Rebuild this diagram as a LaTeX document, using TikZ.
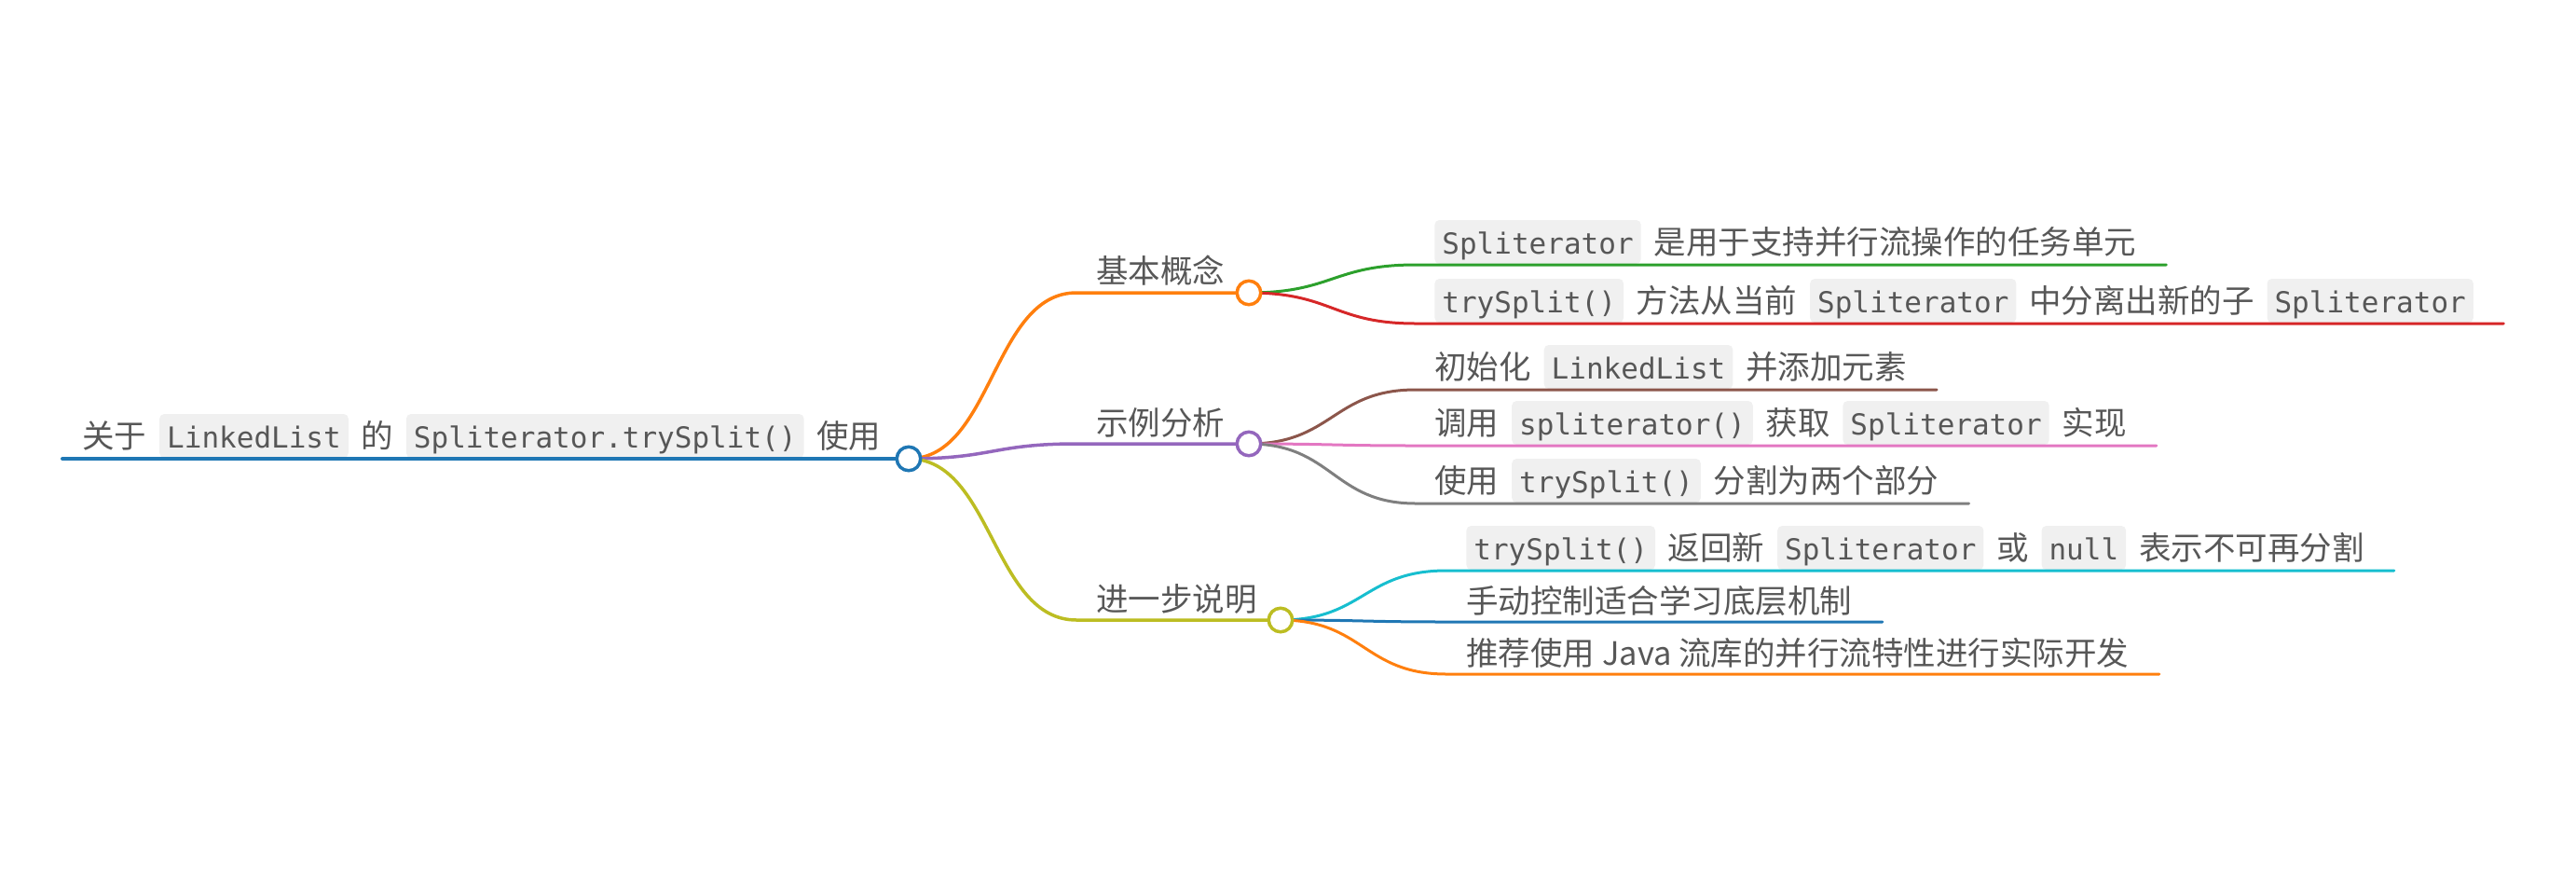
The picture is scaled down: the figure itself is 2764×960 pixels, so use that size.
\documentclass[tikz,border=0pt]{standalone}
\usepackage{fontspec}
\setmainfont{Noto Sans CJK SC}
\newfontfamily\codefont{DejaVu Sans Mono}
\usetikzlibrary{calc}
\definecolor{txtgray}{HTML}{575757}
\definecolor{codebg}{HTML}{F0F0F0}
\definecolor{cblue}{HTML}{1F77B4}
\definecolor{corange}{HTML}{FF7F0E}
\definecolor{cgreen}{HTML}{2CA02C}
\definecolor{cred}{HTML}{D62728}
\definecolor{cpurple}{HTML}{9467BD}
\definecolor{cbrown}{HTML}{8C564B}
\definecolor{cpink}{HTML}{E377C2}
\definecolor{cgray}{HTML}{7F7F7F}
\definecolor{colive}{HTML}{BCBD22}
\definecolor{ccyan}{HTML}{17BECF}
\tikzset{
  txt/.style={inner sep=0pt, anchor=base west, font=\fontsize{17.25pt}{20pt}\selectfont, text=txtgray},
  codebox/.style={anchor=base west, fill=codebg, rounded corners=2.5pt, inner xsep=4pt, inner ysep=0pt,
    text height=18pt, text depth=5.5pt, font=\codefont\fontsize{15.5pt}{18pt}\selectfont, text=txtgray},
  rootlink/.style={line width=2pt, line cap=round},
  brlink/.style={line width=1.75pt, line cap=round},
  leaflink/.style={line width=1.5pt, line cap=round},
  dot/.style={circle, draw, fill=white, line width=1.75pt, minimum size=12.75pt, inner sep=0pt},
}
\begin{document}
\begin{tikzpicture}[x=0.5pt,y=-0.5pt]
\useasboundingbox (0,0) rectangle (2764,960);
% ---------- circle centres and line starts
\coordinate (c0) at (975,492);
\coordinate (c1) at (1340,314);
\coordinate (c2) at (1340,476);
\coordinate (c3) at (1374,665);
\coordinate (r0s) at (67,492);
\coordinate (b1s) at (1155,314);
\coordinate (b2s) at (1155,476);
\coordinate (b3s) at (1155,665);
\coordinate (s11) at (1519,284);
\coordinate (s12) at (1519,347);
\coordinate (s21) at (1519,418);
\coordinate (s22) at (1519,478);
\coordinate (s23) at (1519,540);
\coordinate (s31) at (1552,612);
\coordinate (s32) at (1552,667);
\coordinate (s33) at (1552,723);

% ---------- labels
% root
\node[txt] (r1) at (88,480) {关于};
\node[codebox] (r2) at ([xshift=6.5pt]r1.base east) {LinkedList};
\node[txt] (r3) at ([xshift=6.5pt]r2.base east) {的};
\node[codebox] (r4) at ([xshift=6.5pt]r3.base east) {Spliterator.trySplit()};
\node[txt] (r5) at ([xshift=6.5pt]r4.base east) {使用};
% branches
\node[txt] (b1t) at (1176,303) {基本概念};
\node[txt] (b2t) at (1176,466) {示例分析};
\node[txt] (b3t) at (1176,655) {进一步说明};
% leaf 1.1
\node[codebox] (a1) at (1539,272) {Spliterator};
\node[txt] (a2) at ([xshift=6.5pt]a1.base east) {是用于支持并行流操作的任务单元};
% leaf 1.2
\node[codebox] (b1) at (1539,335) {trySplit()};
\node[txt] (b2) at ([xshift=6.5pt]b1.base east) {方法从当前};
\node[codebox] (b3) at ([xshift=6.5pt]b2.base east) {Spliterator};
\node[txt] (b4) at ([xshift=6.5pt]b3.base east) {中分离出新的子};
\node[codebox] (b5) at ([xshift=6.5pt]b4.base east) {Spliterator};
% leaf 2.1
\node[txt] (d1) at (1539,406) {初始化};
\node[codebox] (d2) at ([xshift=6.5pt]d1.base east) {LinkedList};
\node[txt] (d3) at ([xshift=6.5pt]d2.base east) {并添加元素};
% leaf 2.2
\node[txt] (e1) at (1539,466) {调用};
\node[codebox] (e2) at ([xshift=6.5pt]e1.base east) {spliterator()};
\node[txt] (e3) at ([xshift=6.5pt]e2.base east) {获取};
\node[codebox] (e4) at ([xshift=6.5pt]e3.base east) {Spliterator};
\node[txt] (e5) at ([xshift=6.5pt]e4.base east) {实现};
% leaf 2.3
\node[txt] (f1) at (1539,528) {使用};
\node[codebox] (f2) at ([xshift=6.5pt]f1.base east) {trySplit()};
\node[txt] (f3) at ([xshift=6.5pt]f2.base east) {分割为两个部分};
% leaf 3.1
\node[codebox] (g1) at (1573,600) {trySplit()};
\node[txt] (g2) at ([xshift=6.5pt]g1.base east) {返回新};
\node[codebox] (g3) at ([xshift=6.5pt]g2.base east) {Spliterator};
\node[txt] (g4) at ([xshift=6.5pt]g3.base east) {或};
\node[codebox] (g5) at ([xshift=6.5pt]g4.base east) {null};
\node[txt] (g6) at ([xshift=6.5pt]g5.base east) {表示不可再分割};
% leaf 3.2
\node[txt] (h1) at (1573,657) {手动控制适合学习底层机制};
% leaf 3.3
\node[txt] (k1) at (1573,713) {推荐使用 Java 流库的并行流特性进行实际开发};

% ---------- connectors
\draw[rootlink, cblue] (r0s) -- (c0);
\draw[brlink, corange] (c0) .. controls (1065,492) and (1065,314) .. (b1s) -- (c1);
\draw[brlink, cpurple] (c0) .. controls (1065,492) and (1065,476) .. (b2s) -- (c2);
\draw[brlink, colive] (c0) .. controls (1065,492) and (1065,665) .. (b3s) -- (c3);

\draw[leaflink, cgreen] (c1) .. controls (1430,314) and (1430,284) .. (s11) -- ($(s11 -| a2.east)+(16pt,0)$);
\draw[leaflink, cred] (c1) .. controls (1430,314) and (1430,347) .. (s12) -- ($(s12 -| b5.east)+(16pt,0)$);

\draw[leaflink, cbrown] (c2) .. controls (1430,476) and (1430,418) .. (s21) -- ($(s21 -| d3.east)+(16pt,0)$);
\draw[leaflink, cpink] (c2) .. controls (1430,476) and (1430,478) .. (s22) -- ($(s22 -| e5.east)+(16pt,0)$);
\draw[leaflink, cgray] (c2) .. controls (1430,476) and (1430,540) .. (s23) -- ($(s23 -| f3.east)+(16pt,0)$);

\draw[leaflink, ccyan] (c3) .. controls (1463,665) and (1463,612) .. (s31) -- ($(s31 -| g6.east)+(16pt,0)$);
\draw[leaflink, cblue] (c3) .. controls (1463,665) and (1463,667) .. (s32) -- ($(s32 -| h1.east)+(16pt,0)$);
\draw[leaflink, corange] (c3) .. controls (1463,665) and (1463,723) .. (s33) -- ($(s33 -| k1.east)+(16pt,0)$);

% ---------- circles
\node[dot, draw=cblue] (n0) at (c0) {};
\node[dot, draw=corange] (n1) at (c1) {};
\node[dot, draw=cpurple] (n2) at (c2) {};
\node[dot, draw=colive] (n3) at (c3) {};
\end{tikzpicture}
\end{document}
